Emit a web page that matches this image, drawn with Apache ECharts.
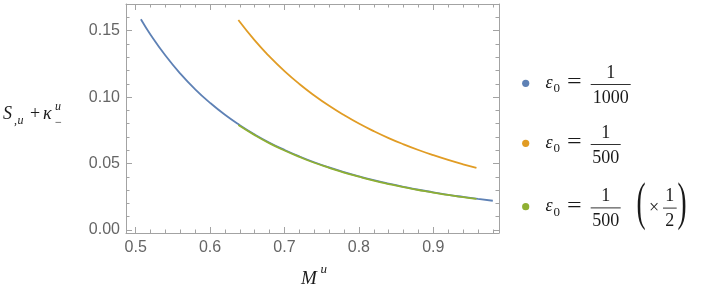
<!DOCTYPE html>
<html><head><meta charset="utf-8">
<script src="https://cdn.jsdelivr.net/npm/echarts@6/dist/echarts.min.js"></script>
<style>html,body{margin:0;padding:0;background:#fff;}#c{width:702px;height:298px;}</style>
</head><body><div id="c"></div>
<script>
// ---- data ----
const xBlue = [0.507,0.52,0.54,0.56,0.58,0.60,0.62,0.64,0.66,0.68,0.70,0.72,0.74,0.76,0.78,0.80,0.82,0.84,0.86,0.88,0.90,0.92,0.94,0.96,0.98];
const yBlue = [0.1586,0.1470,0.1313,0.1177,0.1059,0.0957,0.0867,0.0789,0.0719,0.0657,0.0603,0.0554,0.0510,0.0471,0.0436,0.0404,0.0375,0.0349,0.0325,0.0303,0.0284,0.0265,0.0249,0.0234,0.0220];
const xOrange = [0.638,0.66,0.68,0.70,0.72,0.74,0.76,0.78,0.80,0.82,0.84,0.86,0.88,0.90,0.92,0.94,0.958];
const yOrange = [0.1580,0.1427,0.1305,0.1196,0.1099,0.1013,0.0935,0.0865,0.0801,0.0744,0.0692,0.0645,0.0602,0.0563,0.0527,0.0494,0.0467];
const xGreen = [0.638,0.66,0.68,0.70,0.72,0.74,0.76,0.78,0.80,0.82,0.84,0.86,0.88,0.90,0.92,0.94,0.958];
const yGreen = [0.0790,0.0714,0.0652,0.0598,0.0550,0.0506,0.0468,0.0432,0.0401,0.0372,0.0346,0.0322,0.0301,0.0281,0.0264,0.0247,0.0234];

const xTicks = [0.5,0.6,0.7,0.8,0.9];
const xTickLabels = ["0.5","0.6","0.7","0.8","0.9"];
const xMinorTicks = [0.52,0.54,0.56,0.58,0.62,0.64,0.66,0.68,0.72,0.74,0.76,0.78,0.82,0.84,0.86,0.88,0.92,0.94,0.96,0.98];
const yTicks = [0,0.05,0.10,0.15];
const yTickLabels = ["0.00","0.05","0.10","0.15"];
const yMinorTicks = [0.01,0.02,0.03,0.04,0.06,0.07,0.08,0.09,0.11,0.12,0.13,0.14,0.16];

const seriesNames = ["ε0 = 1/1000","ε0 = 1/500","ε0 = 1/500 (×1/2)"];
const legendNumer = ["1","1","1"];
const legendDenom = ["1000","500","500"];
const colors = ["#5E81B5","#E19C24","#8FB032"];

// ---- layout ----
const X0 = 0.487, X1 = 0.9883, Y0 = -0.00226, Y1 = 0.1701;
const frameColor = '#a3a3a3';
const sans = 'Liberation Sans, Arial, sans-serif';
const serifStack = '"Liberation Serif", "Times New Roman", serif';

function lbl(vals, labels) {
  return v => { const i = vals.findIndex(t => Math.abs(t - v) < 1e-9); return i >= 0 ? labels[i] : ''; };
}
function xAx(pos, vals, len, showLine, labels) {
  return {
    type: 'value', min: X0, max: X1, position: pos, gridIndex: 0,
    axisLine: { show: showLine, onZero: false, lineStyle: { color: frameColor, width: 1 } },
    axisTick: { show: true, inside: true, length: len, customValues: vals, lineStyle: { color: frameColor, width: 1 } },
    axisLabel: labels ? { show: true, customValues: vals, formatter: lbl(vals, labels), margin: 7, fontSize: 16, color: '#656565', fontFamily: sans } : { show: false },
    splitLine: { show: false }, minorTick: { show: false }
  };
}
function yAx(pos, vals, len, showLine, labels) {
  return {
    type: 'value', min: Y0, max: Y1, position: pos, gridIndex: 0,
    axisLine: { show: showLine, onZero: false, lineStyle: { color: frameColor, width: 1 } },
    axisTick: { show: true, inside: true, length: len, customValues: vals, lineStyle: { color: frameColor, width: 1 } },
    axisLabel: labels ? { show: true, customValues: vals, formatter: lbl(vals, labels), margin: 6, fontSize: 16, color: '#656565', fontFamily: sans } : { show: false },
    splitLine: { show: false }, minorTick: { show: false }
  };
}

function pairs(xs, ys) { return xs.map((x, i) => [x, ys[i]]); }

function fnt(size, italic) { return (italic ? 'italic ' : 'normal ') + 'normal ' + size + 'px ' + serifStack; }
// text helper: positioned by baseline
function T(x, base, s, size, italic, align, extra) {
  const o = {
    type: 'text', x: x, y: base - 0.33 * size, silent: true,
    style: { text: s, font: fnt(size, italic), fill: '#1a1a1a', align: align || 'left', verticalAlign: 'middle' }
  };
  return Object.assign(o, extra || {});
}
function M(x, mid, s, size, italic, align, extra) {
  const o = {
    type: 'text', x: x, y: mid, silent: true,
    style: { text: s, font: fnt(size, italic), fill: '#1a1a1a', align: align || 'center', verticalAlign: 'middle' }
  };
  return Object.assign(o, extra || {});
}
function bar(x1, x2, y) {
  return { type: 'line', silent: true, shape: { x1: x1, y1: y, x2: x2, y2: y }, style: { stroke: '#1a1a1a', lineWidth: 0.9 } };
}

const g = [];
// y-axis title  S_{,u} + κ^u_-
g.push(T(3, 120.7, 'S', 18, true));
g.push(T(14, 124.5, ',', 12, false));
g.push(T(17.5, 124.5, 'u', 12, true));
g.push(T(30, 120.7, '+', 18, false));
g.push(T(43, 120.7, 'κ', 18, true));
g.push(T(55, 110.8, 'u', 12, true));
g.push(T(55, 127, '−', 12, false));
// x-axis title M^u
g.push(T(301, 285, 'M', 19, true));
g.push(T(320.5, 273.5, 'u', 13, true));

// legend
const dotY = [83.3, 143.3, 206.7];
const barEnd = [630.7, 620.7, 620.7];
for (let i = 0; i < 3; i++) {
  const d = dotY[i];
  g.push({ type: 'circle', silent: true, shape: { cx: 525.7, cy: d, r: 3.6 }, style: { fill: colors[i] } });
  g.push(T(545.5, d + 6, 'ε', 18, true));
  g.push(T(553.5, d + 9.7, '0', 13, false));
  g.push(T(567, d + 6.2, '=', 20, false, 'left', { scaleX: 1.3 }));
  g.push(bar(590.7, barEnd[i], d + 1.2));
  const cx = (590.7 + barEnd[i]) / 2;
  g.push(M(cx, d - 10.3, legendNumer[i], 18, false));
  g.push(M(cx, d + 14.5, legendDenom[i], 18, false));
}
{
  const d = dotY[2];
  g.push(M(636.5, d - 1.8, '(', 26, false, 'left', { scaleX: 1.05, scaleY: 2.05 }));
  g.push(M(654, d + 2, '×', 18, false));
  g.push(bar(663, 676.7, d + 1.4));
  g.push(M(669.8, d - 10, '1', 18, false));
  g.push(M(669.8, d + 14.8, '2', 18, false));
  g.push(M(677.5, d - 1.8, ')', 26, false, 'left', { scaleX: 1.05, scaleY: 2.05 }));
}

const chart = echarts.init(document.getElementById('c'), null, { renderer: 'canvas', width: 702, height: 298 });
chart.setOption({
  animation: false,
  backgroundColor: '#fff',
  grid: { left: 126, top: 4, right: 203, bottom: 65, containLabel: false },
  xAxis: [
    xAx('bottom', xTicks, 6, true, xTickLabels),
    xAx('bottom', xMinorTicks, 3.5, false, null),
    xAx('top', xTicks, 6, true, null),
    xAx('top', xMinorTicks, 3.5, false, null)
  ],
  yAxis: [
    yAx('left', yTicks, 6, true, yTickLabels),
    yAx('left', yMinorTicks, 3.5, false, null),
    yAx('right', yTicks, 6, true, null),
    yAx('right', yMinorTicks, 3.5, false, null)
  ],
  series: [0, 1, 2].map(i => ({
    name: seriesNames[i], type: 'line', xAxisIndex: 0, yAxisIndex: 0,
    data: pairs([xBlue, xOrange, xGreen][i], [yBlue, yOrange, yGreen][i]),
    showSymbol: false, symbol: 'none', smooth: true,
    lineStyle: { color: colors[i], width: 1.8 }, itemStyle: { color: colors[i] },
    z: 2 + i
  })),
  graphic: g
});
</script>
</body></html>
